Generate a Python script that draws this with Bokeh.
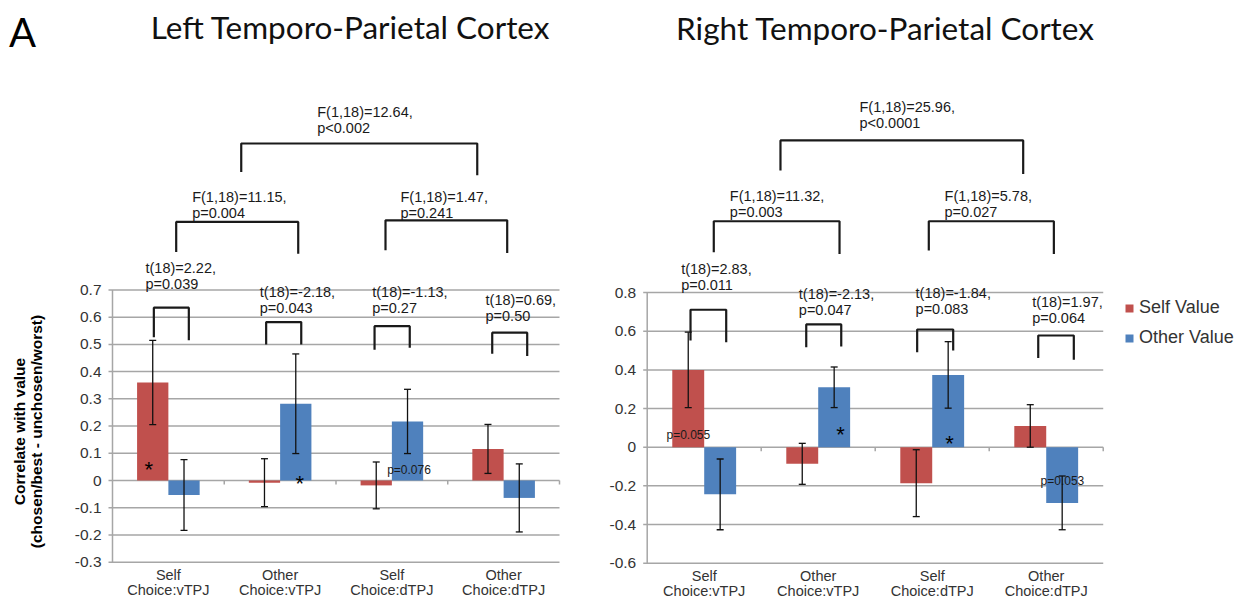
import math
from bokeh.plotting import figure
from bokeh.layouts import row
from bokeh.models import (ColumnDataSource, Whisker, TeeHead, Legend, LegendItem, Range1d)
from bokeh.core.properties import value
from bokeh.embed import file_html
from bokeh.resources import INLINE

# ---------------- data ----------------
categories = ["Self\nChoice:vTPJ", "Other\nChoice:vTPJ", "Self\nChoice:dTPJ", "Other\nChoice:dTPJ"]
series_names = ["Self Value", "Other Value"]
y_title = ["Correlate with value", "(chosen/best - unchosen/worst)"]

# Left Temporo-Parietal Cortex
left_self = [0.36, -0.008, -0.018, 0.116]
left_self_err = [0.155, 0.088, 0.086, 0.09]
left_other = [-0.053, 0.282, 0.217, -0.064]
left_other_err = [0.13, 0.183, 0.118, 0.125]
left_yticks = [-0.3, -0.2, -0.1, 0.0, 0.1, 0.2, 0.3, 0.4, 0.5, 0.6, 0.7]

# Right Temporo-Parietal Cortex
right_self = [0.40, -0.086, -0.186, 0.11]
right_self_err = [0.195, 0.106, 0.173, 0.11]
right_other = [-0.244, 0.31, 0.374, -0.288]
right_other_err = [0.183, 0.105, 0.172, 0.139]
right_yticks = [-0.6, -0.4, -0.2, 0.0, 0.2, 0.4, 0.6, 0.8]

# significance brackets (x left leg, x right leg, top, left leg bottom, right leg bottom)
left_br_xl = [0.37, 1.375, 2.345, 3.398, 0.57, 2.443, 1.152]
left_br_xr = [0.683, 1.689, 2.66, 3.711, 1.662, 3.532, 3.264]
left_br_top = [0.635, 0.582, 0.567, 0.543, 0.95, 0.956, 1.238]
left_br_bl = [0.526, 0.50, 0.48, 0.466, 0.839, 0.846, 1.133]
left_br_br = [0.515, 0.50, 0.488, 0.457, 0.833, 0.836, 1.121]

right_br_xl = [0.38, 1.395, 2.368, 3.43, 0.584, 2.47, 1.169]
right_br_xr = [0.693, 1.702, 2.684, 3.742, 1.687, 3.567, 3.298]
right_br_top = [0.711, 0.635, 0.609, 0.578, 1.169, 1.169, 1.587]
right_br_bl = [0.552, 0.517, 0.491, 0.462, 1.009, 1.018, 1.431]
right_br_br = [0.543, 0.521, 0.50, 0.452, 1.0, 1.0, 1.414]

# statistics text (two lines)
left_stat_l1 = ["t(18)=2.22,", "t(18)=-2.18,", "t(18)=-1.13,", "t(18)=0.69,",
                "F(1,18)=11.15,", "F(1,18)=1.47,", "F(1,18)=12.64,"]
left_stat_l2 = ["p=0.039", "p=0.043", "p=0.27", "p=0.50", "p=0.004", "p=0.241", "p<0.002"]
left_stat_x = [0.295, 1.318, 2.324, 3.338, 0.713, 2.577, 1.832]
left_stat_y = [0.779, 0.691, 0.692, 0.662, 1.040, 1.040, 1.354]

right_stat_l1 = ["t(18)=2.83,", "t(18)=-2.13,", "t(18)=-1.84,", "t(18)=1.97,",
                 "F(1,18)=11.32,", "F(1,18)=5.78,", "F(1,18)=25.96,"]
right_stat_l2 = ["p=0.011", "p=0.047", "p=0.083", "p=0.064", "p=0.003", "p=0.027", "p<0.0001"]
right_stat_x = [0.298, 1.33, 2.354, 3.377, 0.725, 2.608, 1.862]
right_stat_y = [0.923, 0.794, 0.797, 0.75, 1.298, 1.298, 1.759]

# asterisks and small p-notes
left_star_x = [0.325, 1.676]
left_star_y = [0.058, 0.006]
left_note_text = ["p=0.076"]
left_note_x = [2.458]
left_note_y = [0.037]

right_star_x = [1.696, 2.652]
right_star_y = [0.09, 0.043]
right_note_text = ["p=0.055", "p=0.053"]
right_note_x = [0.169, 3.45]
right_note_y = [0.064, -0.176]

RED = "#C0504D"
BLUE = "#4F81BD"
GRID = "#a6a6a6"
INK = "#1a1a1a"
LABEL = "#333333"
FONT = "Liberation Sans"
TFONT = "Lato"


def fmt(t):
    s = f"{t:g}"
    return "0" if s in ("0", "-0") else s


def panel(title, title_x, title_y, s_vals, s_err, o_vals, o_err, yticks,
          width, height, xr, yr,
          br_xl, br_xr, br_top, br_bl, br_br,
          st_l1, st_l2, st_x, st_y, star_x, star_y, note_t, note_x, note_y):
    p = figure(width=width, height=height, x_range=Range1d(*xr), y_range=Range1d(*yr),
               output_backend="svg", toolbar_location=None, title=None,
               x_axis_location=None, y_axis_location=None,
               outline_line_color=None, min_border=0)
    p.xgrid.visible = False
    p.ygrid.visible = False
    ncat = len(categories)
    cx = [i + 0.5 for i in range(ncat)]
    ppu_x = width / (xr[1] - xr[0])
    ppu_y = height / (yr[1] - yr[0])

    # gridlines, axis line and ticks
    n = len(yticks)
    p.segment(x0=[-4 / ppu_x] * n, y0=yticks, x1=[ncat] * n, y1=yticks,
              line_color=GRID, line_width=1.5)
    p.segment(x0=[0], y0=[yticks[0]], x1=[0], y1=[yticks[-1]],
              line_color=GRID, line_width=1.5)
    bx = list(range(1, ncat + 1))
    p.segment(x0=bx, y0=[0] * ncat, x1=bx, y1=[-4 / ppu_y] * ncat,
              line_color=GRID, line_width=1.5)

    # y tick labels
    p.text(x=[0] * n, y=yticks, text=[fmt(t) for t in yticks], x_offset=-11,
           text_font=value(FONT), text_font_size="15.5px", text_color=LABEL,
           text_align="right", text_baseline="middle")
    # category labels
    l1 = [c.split("\n")[0] for c in categories]
    l2 = [c.split("\n")[1] for c in categories]
    p.text(x=cx, y=[yticks[0]] * ncat, text=l1, y_offset=13,
           text_font=value(FONT), text_font_size="14.5px", text_color=LABEL,
           text_align="center", text_baseline="middle")
    p.text(x=cx, y=[yticks[0]] * ncat, text=l2, y_offset=28,
           text_font=value(FONT), text_font_size="14.5px", text_color=LABEL,
           text_align="center", text_baseline="middle")

    # bars
    bw = 0.28
    sx = [c - bw / 2 for c in cx]
    ox = [c + bw / 2 for c in cx]
    s_src = ColumnDataSource(dict(x=sx, top=s_vals,
                                  upper=[v + e for v, e in zip(s_vals, s_err)],
                                  lower=[v - e for v, e in zip(s_vals, s_err)]))
    o_src = ColumnDataSource(dict(x=ox, top=o_vals,
                                  upper=[v + e for v, e in zip(o_vals, o_err)],
                                  lower=[v - e for v, e in zip(o_vals, o_err)]))
    r_s = p.vbar(x="x", top="top", bottom=0, width=bw, source=s_src,
                 fill_color=RED, line_color=None)
    r_o = p.vbar(x="x", top="top", bottom=0, width=bw, source=o_src,
                 fill_color=BLUE, line_color=None)

    # texts in plot
    p.text(x=note_x, y=note_y, text=note_t, text_font=value(FONT), text_font_size="12px",
           text_align="left", text_baseline="middle", text_color=INK)
    p.text(x=star_x, y=star_y, text=["*"] * len(star_x), text_font=value(FONT),
           text_font_size="22px", text_align="center", text_baseline="middle",
           text_color="#000000", y_offset=5)

    for src in (s_src, o_src):
        w = Whisker(source=src, base="x", upper="upper", lower="lower",
                    line_color="#111111", line_width=1.3, level="annotation",
                    upper_head=TeeHead(size=7, line_color="#111111", line_width=1.3),
                    lower_head=TeeHead(size=7, line_color="#111111", line_width=1.3))
        p.add_layout(w)

    # brackets
    xs = [[a, a, b, b] for a, b in zip(br_xl, br_xr)]
    ys = [[l, t, t, r] for t, l, r in zip(br_top, br_bl, br_br)]
    p.multi_line(xs=xs, ys=ys, line_color=INK, line_width=2.2)

    # stats
    p.text(x=st_x, y=st_y, text=st_l1, text_font=value(FONT), text_font_size="14.5px",
           text_align="left", text_baseline="middle", text_color=INK)
    p.text(x=st_x, y=st_y, text=st_l2, text_font=value(FONT), text_font_size="14.5px",
           text_align="left", text_baseline="middle", text_color=INK, y_offset=16)

    # title
    p.text(x=[title_x], y=[title_y], text=[title], text_font=value(TFONT),
           text_font_size="31.5px", text_align="center", text_baseline="middle",
           text_color="#111111")
    return p, r_s, r_o


p1, l_s, l_o = panel("Left Temporo-Parietal Cortex", 2.13, 1.665,
                     left_self, left_self_err, left_other, left_other_err,
                     left_yticks, 600, 598, (-1.0022, 4.3669), (-0.4335, 1.7634),
                     left_br_xl, left_br_xr, left_br_top, left_br_bl, left_br_br,
                     left_stat_l1, left_stat_l2, left_stat_x, left_stat_y,
                     left_star_x, left_star_y, left_note_text, left_note_x, left_note_y)

p2, r_s, r_o = panel("Right Temporo-Parietal Cortex", 2.09, 2.171,
                     right_self, right_self_err, right_other, right_other_err,
                     right_yticks, 636, 598, (-0.4096, 5.169), (-0.7827, 2.311),
                     right_br_xl, right_br_xr, right_br_top, right_br_bl, right_br_br,
                     right_stat_l1, right_stat_l2, right_stat_x, right_stat_y,
                     right_star_x, right_star_y, right_note_text, right_note_x, right_note_y)

# y-axis title (two rotated lines) and panel letter on the left chart
p1.text(x=[-0.83, -0.68], y=[0.18, 0.18], text=y_title, angle=math.pi / 2,
        text_font=value(FONT), text_font_size="15.5px", text_font_style="bold",
        text_align="center", text_baseline="middle", text_color="#000000")
p1.text(x=[-0.805], y=[1.647], text=["A"], text_font=value(TFONT), text_font_size="40px",
        text_align="center", text_baseline="middle", text_color="#000000")

legend = Legend(items=[LegendItem(label=series_names[0], renderers=[r_s]),
                       LegendItem(label=series_names[1], renderers=[r_o])],
                location=(524, 250), orientation="vertical",
                glyph_width=10, glyph_height=10, label_standoff=5,
                label_height=21, spacing=9, padding=0, margin=0,
                border_line_color=None, background_fill_alpha=0,
                label_text_font=FONT, label_text_font_size="18px",
                label_text_color=LABEL)
p2.add_layout(legend)

layout = row(p1, p2)
open("out.html", "w").write(file_html(layout, INLINE))
